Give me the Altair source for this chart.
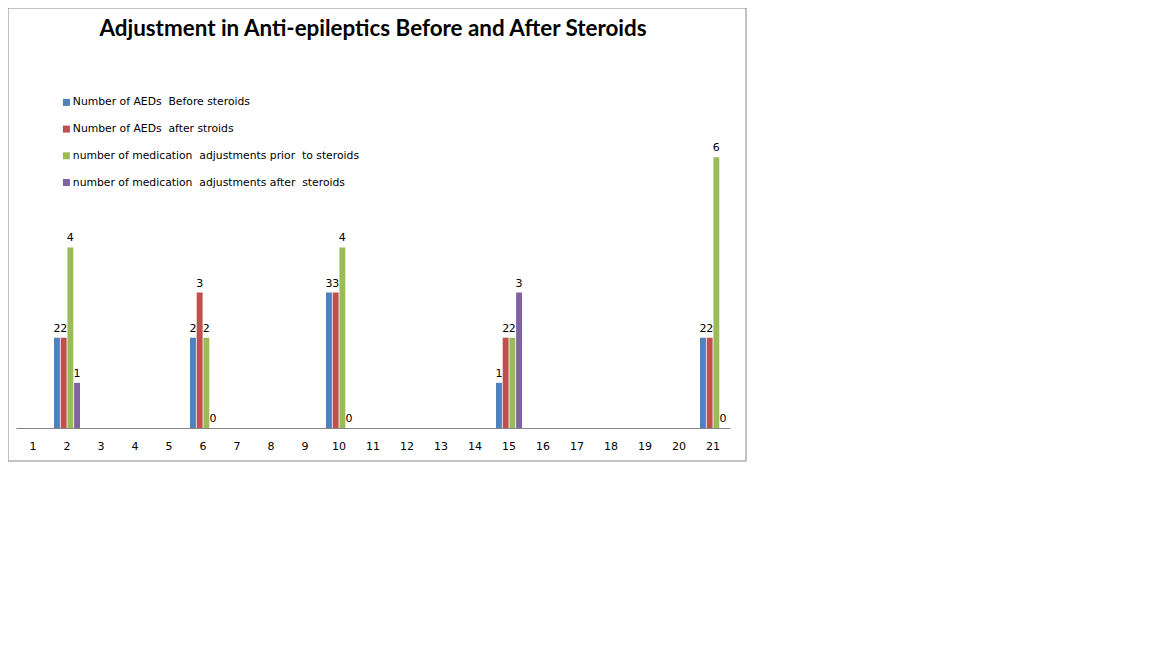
import altair as alt
import pandas as pd

title_text = "Adjustment in Anti-epileptics Before and After Steroids"
categories = [str(i) for i in range(1, 22)]
groups = ["2", "6", "10", "15", "21"]
series = [
    "Number of AEDs\u00a0 Before steroids",
    "Number of AEDs\u00a0 after stroids",
    "number of medication\u00a0 adjustments prior\u00a0 to steroids",
    "number of medication\u00a0 adjustments after\u00a0 steroids",
]
aeds_before = [2, 2, 3, 1, 2]
aeds_after = [2, 3, 3, 2, 2]
adj_prior = [4, 2, 4, 2, 6]
adj_after = [1, 0, 0, 3, 0]
colors = ["#4F81BD", "#C0504D", "#9BBB59", "#8064A2"]

rows = []
for vals, s in zip([aeds_before, aeds_after, adj_prior, adj_after], series):
    for g, v in zip(groups, vals):
        rows.append({"cat": g, "series": s, "value": v})
df = pd.DataFrame(rows)

xscale = alt.Scale(domain=categories, paddingInner=0.235, paddingOuter=0.1175)
xoff = alt.Scale(domain=series, paddingInner=0.12)
yscale = alt.Scale(domain=[0, 7])

base = alt.Chart(df).encode(
    x=alt.X("cat:N", scale=xscale, sort=categories,
            axis=alt.Axis(title=None, labelAngle=0, ticks=False, grid=False,
                          domainColor="#868686", labelFont="DejaVu Sans",
                          labelFontSize=11, labelColor="#000000", labelPadding=12)),
    xOffset=alt.XOffset("series:N", scale=xoff, sort=series),
    y=alt.Y("value:Q", scale=yscale, axis=None),
)

bars = base.mark_bar().encode(
    color=alt.Color("series:N", sort=series,
                    scale=alt.Scale(domain=series, range=colors),
                    legend=alt.Legend(title=None, orient="none", legendX=45, legendY=-15,
                                      symbolType="square", symbolSize=49,
                                      symbolStrokeWidth=0, rowPadding=14.7,
                                      labelFont="DejaVu Sans", labelFontSize=10.8,
                                      labelColor="#000000", labelLimit=400,
                                      symbolOffset=0, labelOffset=1))
)

labels = base.mark_text(dy=-9, font="DejaVu Sans", fontSize=11, color="#000000").encode(
    text=alt.Text("value:Q")
)

one = pd.DataFrame({"t": [title_text]})
border = alt.Chart(one).mark_rect(fill=None, stroke="#868686", strokeWidth=1).encode(
    x=alt.value(-8), x2=alt.value(730), y=alt.value(-104), y2=alt.value(349)
)
title = alt.Chart(one).mark_text(font="Lato", fontSize=22.4, fontWeight="bold",
                                 color="#000000", align="center", baseline="middle").encode(
    x=alt.value(357), y=alt.value(-83), text="t:N"
)

chart = alt.layer(border, title, bars, labels).properties(
    width=714, height=316,
    autosize=alt.AutoSizeParams(type="none"),
    padding={"left": 8, "top": 104, "right": 18, "bottom": 36},
).configure_view(stroke=None)

chart.save("out.html", embed_options={"renderer": "svg", "actions": False})
